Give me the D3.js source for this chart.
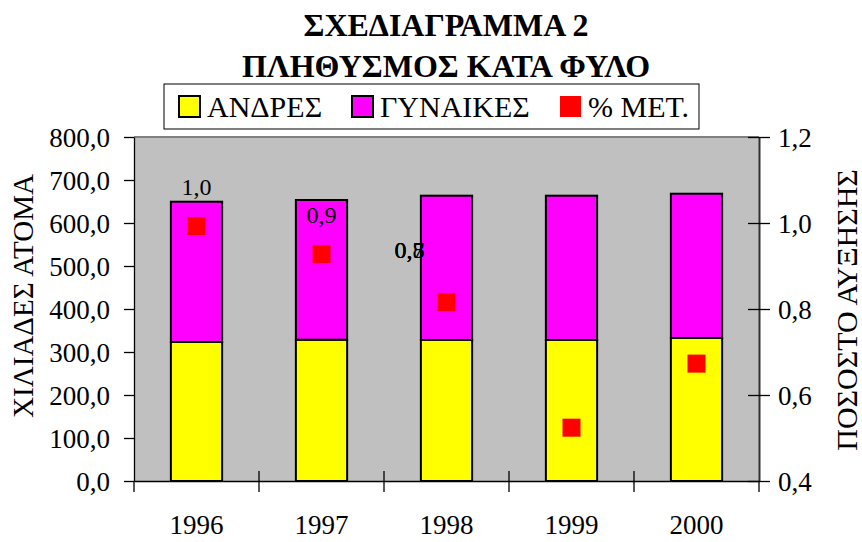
<!DOCTYPE html>
<html><head><meta charset="utf-8">
<script src="https://cdn.jsdelivr.net/npm/d3@7/dist/d3.min.js"></script>
<style>
html,body{margin:0;padding:0;background:#fff;}
svg{display:block;font-family:"Liberation Serif","Times New Roman",serif;}
svg text{font-family:"Liberation Serif","Times New Roman",serif;}
</style></head>
<body>
<svg id="chart" width="862" height="542"></svg>
<script>
// ---- data ----
const years = ["1996", "1997", "1998", "1999", "2000"];
const men = [323.3, 328.6, 327.9, 327.9, 332.6];
const women = [326.2, 324.9, 335.6, 335.6, 335.5];
const pctGrowth = [0.993, 0.928, 0.816, 0.524, 0.673];
const leftTicks = [0, 100, 200, 300, 400, 500, 600, 700, 800];
const rightTicks = [0.4, 0.6, 0.8, 1.0, 1.2];
const titleLines = ["ΣΧΕΔΙΑΓΡΑΜΜΑ 2", "ΠΛΗΘΥΣΜΟΣ ΚΑΤΑ ΦΥΛΟ"];
const seriesNames = ["ΑΝΔΡΕΣ", "ΓΥΝΑΙΚΕΣ", "% ΜΕΤ."];
const leftTitle = "ΧΙΛΙΑΔΕΣ ΑΤΟΜΑ";
const rightTitle = "ΠΟΣΟΣΤΟ ΑΥΞΗΣΗΣ";

const loc = d3.formatLocale({decimal: ",", thousands: ".", grouping: [3], currency: ["", ""]});
const f1 = loc.format(".1f");
const FF = '"Liberation Serif","Times New Roman",serif';

const svg = d3.select("#chart");
const L = 134, R = 759, T = 137, B = 481;

const x = d3.scaleBand().domain(years).range([L, R]).padding(0);
const yL = d3.scaleLinear().domain([0, 800]).range([B, T]);
const yR = d3.scaleLinear().domain([0.4, 1.2]).range([B, T]);

// plot background
svg.append("rect").attr("x", L).attr("y", T).attr("width", R - L).attr("height", B - T).attr("fill", "#C0C0C0");
svg.append("line").attr("x1", L).attr("x2", R).attr("y1", T).attr("y2", T).attr("stroke", "#808080").attr("stroke-width", 2);

// stacked bars
const bw = x.bandwidth() * 0.41;
const stackData = years.map((y, i) => ({year: y, men: men[i], women: women[i]}));
const stack = d3.stack().keys(["men", "women"])(stackData);
const colors = {men: "#FFFF00", women: "#FF00FF"};
stack.forEach(layer => {
  svg.append("g").selectAll("rect").data(layer).join("rect")
    .attr("x", d => x(d.data.year) + x.bandwidth() / 2 - bw / 2)
    .attr("width", bw)
    .attr("y", d => yL(d[1]))
    .attr("height", d => yL(d[0]) - yL(d[1]))
    .attr("fill", colors[layer.key])
    .attr("stroke", "#000").attr("stroke-width", 2);
});

// red squares
const sq = 18;
svg.append("g").selectAll("rect").data(pctGrowth).join("rect")
  .attr("x", (d, i) => x(years[i]) + x.bandwidth() / 2 - sq / 2)
  .attr("y", d => yR(d) - sq / 2)
  .attr("width", sq).attr("height", sq)
  .attr("fill", "#FF0000");

// data labels (the last three overlap at the same spot, as in the original)
svg.append("g").selectAll("text").data(pctGrowth).join("text")
  .attr("x", (d, i) => i < 2 ? x(years[i]) + x.bandwidth() / 2 : x(years[2]) + x.bandwidth() / 2 - 37)
  .attr("y", (d, i) => i < 2 ? yR(d) - 31 : yR(pctGrowth[2]) - 44)
  .attr("text-anchor", "middle")
  .attr("font-size", 24)
  .attr("fill", "#000")
  .text(d => f1(d));

// left axis
const gL = svg.append("g").attr("transform", `translate(${L},0)`)
  .call(d3.axisLeft(yL).tickValues(leftTicks).tickFormat(f1).tickSize(10).tickSizeOuter(0).tickPadding(14));
gL.attr("font-family", FF).attr("font-size", 27);
gL.selectAll("text").attr("fill", "#000").attr("dy", "0.34em");
gL.selectAll("line,path").attr("stroke", "#000").attr("stroke-width", 1.3);

// right axis
const gR = svg.append("g").attr("transform", `translate(${R},0)`)
  .call(d3.axisRight(yR).tickValues(rightTicks).tickFormat(f1).tickSize(11).tickSizeOuter(0).tickPadding(8));
gR.attr("font-family", FF).attr("font-size", 27);
gR.selectAll(".tick line").attr("x1", -11);
gR.selectAll("text").attr("fill", "#000").attr("dy", "0.34em");
gR.selectAll("line").attr("stroke", "#000").attr("stroke-width", 1.3);
gR.select("path").attr("stroke", "#303030").attr("stroke-width", 2);

// bottom axis
const gB = svg.append("g").attr("transform", `translate(0,${B})`)
  .call(d3.axisBottom(x).tickSize(0).tickPadding(34));
gB.attr("font-family", FF).attr("font-size", 27);
gB.selectAll("text").attr("fill", "#000");
gB.select("path").attr("stroke", "#000").attr("stroke-width", 1.5);
const bounds = years.map(y => x(y)).concat([x.range()[1]]);
svg.append("g").selectAll("line").data(bounds).join("line")
  .attr("x1", d => d).attr("x2", d => d)
  .attr("y1", (d, i) => (i === 0 || i === bounds.length - 1) ? B : B - 10)
  .attr("y2", B + 11)
  .attr("stroke", "#000").attr("stroke-width", 1.3);

// title
svg.append("g").selectAll("text").data(titleLines).join("text")
  .attr("x", 446).attr("y", (d, i) => 36 + i * 41)
  .attr("text-anchor", "middle").attr("font-weight", "bold").attr("font-size", 32)
  .attr("fill", "#000").text(d => d);

// legend
const lg = svg.append("g");
lg.append("rect").attr("x", 164).attr("y", 84).attr("width", 535).attr("height", 45)
  .attr("fill", "#fff").attr("stroke", "#000").attr("stroke-width", 1);
const legX = [179, 352, 560];
const legFill = ["#FFFF00", "#FF00FF", "#FF0000"];
seriesNames.forEach((n, i) => {
  lg.append("rect").attr("x", legX[i]).attr("y", 96).attr("width", 21).attr("height", 21)
    .attr("fill", legFill[i]).attr("stroke", i < 2 ? "#000" : "none").attr("stroke-width", 2);
  lg.append("text").attr("x", legX[i] + 28).attr("y", 117).attr("font-size", 30).attr("fill", "#000").text(n);
});

// axis titles
svg.append("text").attr("transform", "translate(33,296) rotate(-90)")
  .attr("text-anchor", "middle").attr("font-size", 29).attr("fill", "#000").text(leftTitle);
svg.append("text").attr("transform", "translate(857,310) rotate(-90)")
  .attr("text-anchor", "middle").attr("font-size", 30).attr("fill", "#000").text(rightTitle);
</script>
</body></html>
